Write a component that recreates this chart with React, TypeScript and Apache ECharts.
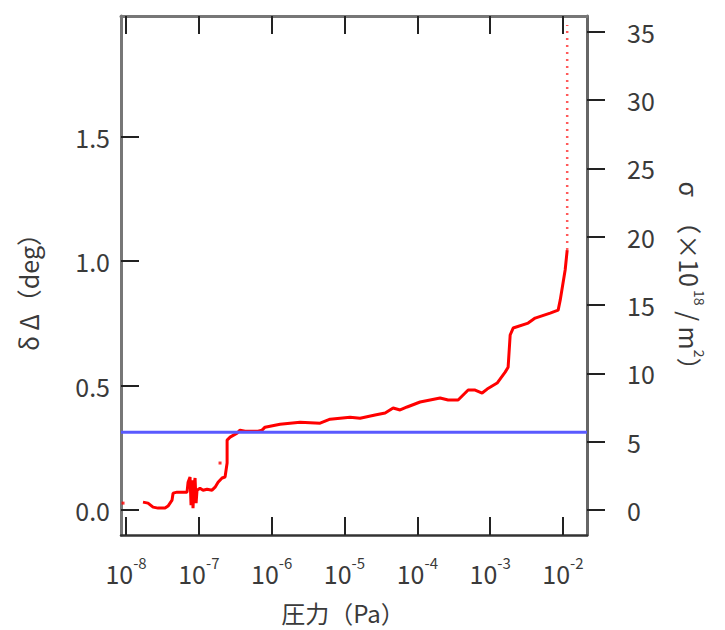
import React, { useEffect, useRef } from "react";
import * as echarts from "echarts";

// x = log10(pressure / Pa), y = δΔ (deg)
const X_TICKS = [-8, -7, -6, -5, -4, -3, -2];
const LEFT_TICKS = [0, 0.5, 1.0, 1.5];
const RIGHT_TICKS = [0, 5, 10, 15, 20, 25, 30, 35];
const X_RANGE = [-8.069, -1.67];
const LEFT_RANGE = [-0.1, 1.984];
const RIGHT_RANGE = [-1.83, 36.16];

const RED_CURVE: [number, number][] = [
  [-7.767, 0.032], [-7.698, 0.028], [-7.629, 0.012], [-7.56, 0.008], [-7.464, 0.008],
  [-7.423, 0.016], [-7.368, 0.04], [-7.354, 0.068], [-7.299, 0.072], [-7.162, 0.072],
  [-7.148, 0.112], [-7.121, 0.133], [-7.107, 0.02], [-7.093, 0.12], [-7.08, 0.008],
  [-7.066, 0.1], [-7.052, 0.129], [-7.038, 0.028], [-7.025, 0.08], [-6.984, 0.088],
  [-6.942, 0.08], [-6.887, 0.084], [-6.819, 0.08], [-6.777, 0.092], [-6.736, 0.112],
  [-6.681, 0.129], [-6.64, 0.133], [-6.612, 0.189], [-6.612, 0.281], [-6.571, 0.293],
  [-6.475, 0.309], [-6.434, 0.321], [-6.365, 0.317], [-6.297, 0.317], [-6.187, 0.317],
  [-6.132, 0.321], [-6.091, 0.333], [-5.885, 0.345], [-5.61, 0.353], [-5.335, 0.349],
  [-5.198, 0.365], [-4.923, 0.373], [-4.786, 0.369], [-4.58, 0.382], [-4.442, 0.39],
  [-4.332, 0.41], [-4.236, 0.402], [-4.14, 0.414], [-3.962, 0.434], [-3.687, 0.45],
  [-3.577, 0.442], [-3.44, 0.442], [-3.371, 0.462], [-3.302, 0.482], [-3.206, 0.482],
  [-3.11, 0.47], [-3.041, 0.486], [-2.904, 0.51], [-2.794, 0.554], [-2.753, 0.574],
  [-2.725, 0.703], [-2.684, 0.731], [-2.478, 0.751], [-2.382, 0.771], [-2.176, 0.791],
  [-2.066, 0.803], [-2.038, 0.843], [-1.97, 0.964], [-1.942, 1.044],
];
const RED_DOTTED: [number, number][] = [[-1.942, 1.044], [-1.942, 1.948]];
const RED_ISOLATED: [number, number][] = [[-8.041, 0.028], [-6.709, 0.189]];
const BLUE_LEVEL = 0.313;

const FONT = '"Noto Sans CJK JP", "Liberation Sans", sans-serif';
const TXT = "#3a3a3a";

export default function App() {
  const ref = useRef<HTMLDivElement>(null);
  useEffect(() => {
    if (!ref.current) return;
    const chart = echarts.init(ref.current, undefined, { renderer: "svg" });
    const tickDark = { color: "#222", width: 2 };
    const option: any = {
      animation: false,
      backgroundColor: "#fff",
      grid: { left: 121, right: 138, top: 16, bottom: 95, containLabel: false },
      xAxis: [
        {
          type: "value", position: "bottom", min: X_RANGE[0], max: X_RANGE[1],
          axisLine: { show: true, onZero: false, lineStyle: { color: "#333", width: 2.5 } },
          axisTick: { show: true, inside: true, length: 18, customValues: X_TICKS, lineStyle: tickDark },
          axisLabel: {
            customValues: X_TICKS, margin: 20,
            formatter: (v: number) => `{b|10}{s|${Math.round(v)}}`,
            rich: {
              b: { fontSize: 25, fontFamily: FONT, color: TXT, lineHeight: 30, verticalAlign: "bottom" },
              s: { fontSize: 15, fontFamily: FONT, color: TXT, lineHeight: 14, verticalAlign: "top" },
            },
          },
          splitLine: { show: false },
        },
        {
          type: "value", position: "top", min: X_RANGE[0], max: X_RANGE[1],
          axisLine: { show: true, onZero: false, lineStyle: { color: "#777", width: 3 } },
          axisTick: { show: true, inside: true, length: 18, customValues: X_TICKS, lineStyle: tickDark },
          axisLabel: { show: false },
          splitLine: { show: false },
        },
      ],
      yAxis: [
        {
          type: "value", position: "left", min: LEFT_RANGE[0], max: LEFT_RANGE[1],
          axisLine: { show: true, onZero: false, lineStyle: { color: "#777", width: 3 } },
          axisTick: { show: true, inside: true, length: 18, customValues: LEFT_TICKS, lineStyle: tickDark },
          axisLabel: {
            customValues: LEFT_TICKS, margin: 11, fontSize: 25, fontFamily: FONT, color: TXT,
            formatter: (v: number) => v.toFixed(1),
          },
          splitLine: { show: false },
        },
        {
          type: "value", position: "right", min: RIGHT_RANGE[0], max: RIGHT_RANGE[1],
          axisLine: { show: true, onZero: false, lineStyle: { color: "#666", width: 3 } },
          axisTick: { show: true, inside: false, length: 18, customValues: RIGHT_TICKS, lineStyle: tickDark },
          axisLabel: {
            customValues: RIGHT_TICKS, margin: 40, fontSize: 25, fontFamily: FONT, color: TXT,
            formatter: (v: number) => String(v),
          },
          splitLine: { show: false },
        },
      ],
      series: [
        {
          type: "line", xAxisIndex: 0, yAxisIndex: 0, data: RED_CURVE, symbol: "none",
          lineStyle: { color: "#ff0000", width: 3 }, z: 3,
        },
        {
          type: "line", xAxisIndex: 0, yAxisIndex: 0, data: RED_DOTTED, symbol: "none",
          lineStyle: { color: "#ff5a5a", width: 2.5, type: [2, 5] }, z: 3,
        },
        {
          type: "scatter", xAxisIndex: 0, yAxisIndex: 0, data: RED_ISOLATED, symbol: "rect",
          symbolSize: 3, itemStyle: { color: "#ff0000" }, z: 3,
        },
        {
          type: "line", xAxisIndex: 0, yAxisIndex: 0,
          data: [[X_RANGE[0], BLUE_LEVEL], [X_RANGE[1], BLUE_LEVEL]], symbol: "none",
          lineStyle: { color: "#5a5aff", width: 3 }, z: 4,
        },
      ],
      graphic: [
        {
          type: "text", x: 343, y: 612,
          style: {
            text: "圧力（Pa）", fontSize: 24, fontFamily: FONT, lineHeight: 28,
            fill: TXT, align: "center", verticalAlign: "middle",
          },
        },
        {
          type: "text", x: 28, y: 286, rotation: Math.PI / 2,
          style: {
            text: "δ Δ（deg）", fontSize: 25, fontFamily: FONT, lineHeight: 30,
            fill: TXT, align: "center", verticalAlign: "middle",
          },
        },
        {
          type: "text", x: 692, y: 282, rotation: -Math.PI / 2,
          style: {
            text: "{a|σ\u3000（×10}{s| 18}{a| / m}{s|2}{a|）}",
            align: "center", verticalAlign: "middle",
            rich: {
              a: { fontSize: 25, fontFamily: FONT, fill: TXT, color: TXT, lineHeight: 30, verticalAlign: "bottom" },
              s: { fontSize: 14, fontFamily: FONT, fill: TXT, color: TXT, lineHeight: 14, verticalAlign: "top" },
            },
          },
        },
      ],
    };
    chart.setOption(option);
    return () => chart.dispose();
  }, []);
  return (
    <div
      ref={ref}
      style={{ position: "absolute", left: 0, top: 0, width: 725, height: 630 }}
    />
  );
}
